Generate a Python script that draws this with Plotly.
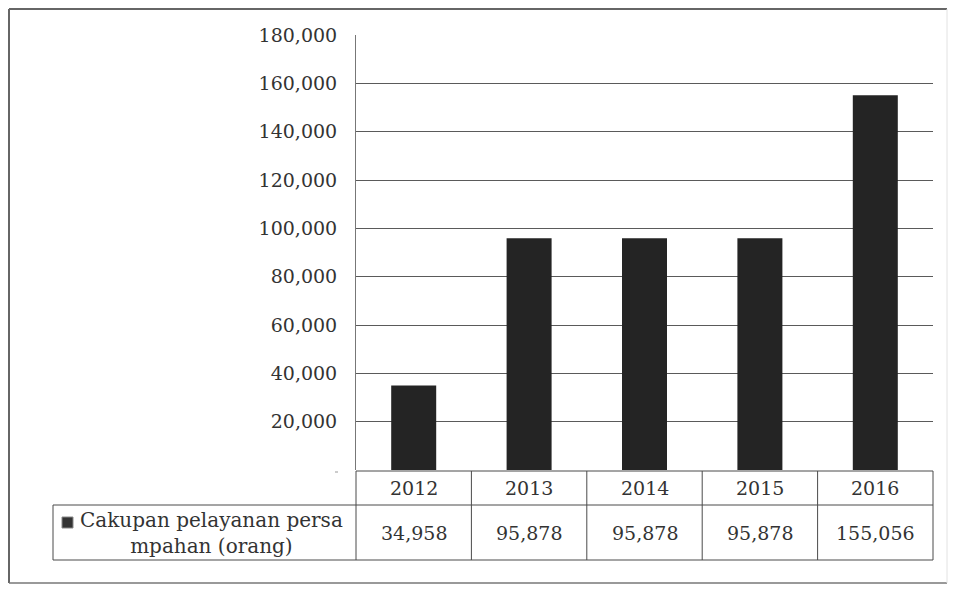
"""Cakupan pelayanan persampahan: bar chart with an Excel-style data table."""

import plotly.graph_objects as go

years = ["2012", "2013", "2014", "2015", "2016"]
coverage = [34958, 95878, 95878, 95878, 155056]
series_name = "Cakupan pelayanan persa<br>mpahan (orang)"
y_ticks = [20000, 40000, 60000, 80000, 100000, 120000, 140000, 160000, 180000]

# page body adds an 8px margin on every side; keep the figure inside the window
OFF = 8
W, H = 956 - 2 * OFF, 592 - 2 * OFF
L, T = 356 - OFF, 35 - OFF
R = W - (933 - OFF)
B = H - (470 - OFF)
PW, PH = W - L - R, H - T - B

FONT = "DejaVu Serif"
TXT = "#333333"
LINE = "#4a4a4a"


def px_x(x):
    return (x - OFF - L) / PW


def px_y(y):
    return (H - B - (y - OFF)) / PH


def seg(x0, y0, x1, y1, color=LINE, width=1):
    return dict(type="line", xref="paper", yref="paper",
                x0=x0, y0=y0, x1=x1, y1=y1, line=dict(color=color, width=width))


fig = go.Figure()
fig.add_trace(go.Bar(
    x=years, y=coverage,
    marker=dict(color="#242424", line=dict(width=0)),
    width=0.39,
    showlegend=False,
))

shapes = []
annotations = []

# outer chart frame; the right edge is barely visible on the scan
fl, ft, fr, fb = px_x(9), px_y(9), px_x(947), px_y(583)
shapes.append(seg(fl, ft, fr, ft, "#666666", 2))
shapes.append(seg(fl, ft, fl, fb, "#666666", 2))
shapes.append(seg(fl, fb, fr, fb, "#777777", 1.5))
shapes.append(seg(fr, ft, fr, fb, "#e2e2e2", 1))

# data table
n = len(years)
row_top, row_mid, row_bot = px_y(471), px_y(505), px_y(560)
left = px_x(53)
shapes.append(seg(0, row_top, 1, row_top))
shapes.append(seg(left, row_mid, 1, row_mid))
shapes.append(seg(left, row_bot, 1, row_bot))
shapes.append(seg(left, row_bot, left, row_mid))
for i in range(n + 1):
    shapes.append(seg(i / n, row_bot, i / n, row_top))

cell_font = dict(family=FONT, size=19, color=TXT)
for i, (yr, v) in enumerate(zip(years, coverage)):
    cx = (i + 0.5) / n
    annotations.append(dict(xref="paper", yref="paper", x=cx, y=(row_top + row_mid) / 2,
                            xanchor="center", yanchor="middle",
                            text=yr, showarrow=False, font=cell_font))
    annotations.append(dict(xref="paper", yref="paper", x=cx, y=(row_mid + row_bot) / 2,
                            xanchor="center", yanchor="middle",
                            text=f"{v:,}", showarrow=False, font=cell_font))

# legend key + series name in the table's first column
shapes.append(dict(type="rect", xref="paper", yref="paper",
                   x0=px_x(62), x1=px_x(73), y0=px_y(528), y1=px_y(517),
                   fillcolor="#333333", line=dict(color="#888888", width=1)))
annotations.append(dict(xref="paper", yref="paper", x=px_x(211), y=(row_mid + row_bot) / 2,
                        xanchor="center", yanchor="middle",
                        text=series_name, showarrow=False, align="center",
                        font=dict(family=FONT, size=20, color=TXT)))

# faint tick remnant next to the (unlabelled) zero line
shapes.append(seg(px_x(335), px_y(472), px_x(338), px_y(472), "#999999", 1))

fig.update_layout(
    width=W, height=H,
    margin=dict(l=L, r=R, t=T, b=B),
    paper_bgcolor="white", plot_bgcolor="white",
    shapes=shapes,
    annotations=annotations,
    xaxis=dict(showticklabels=False, showgrid=False, zeroline=False, showline=False),
    yaxis=dict(
        range=[0, 180000], tickvals=y_ticks, tickformat=",",
        showgrid=True, gridcolor="#5a5a5a", gridwidth=1,
        showline=True, linecolor="#777777", linewidth=1,
        zeroline=False, ticks="", ticklabelstandoff=14,
        tickfont=dict(family=FONT, size=19, color=TXT),
    ),
)

fig.write_html("out.html")
